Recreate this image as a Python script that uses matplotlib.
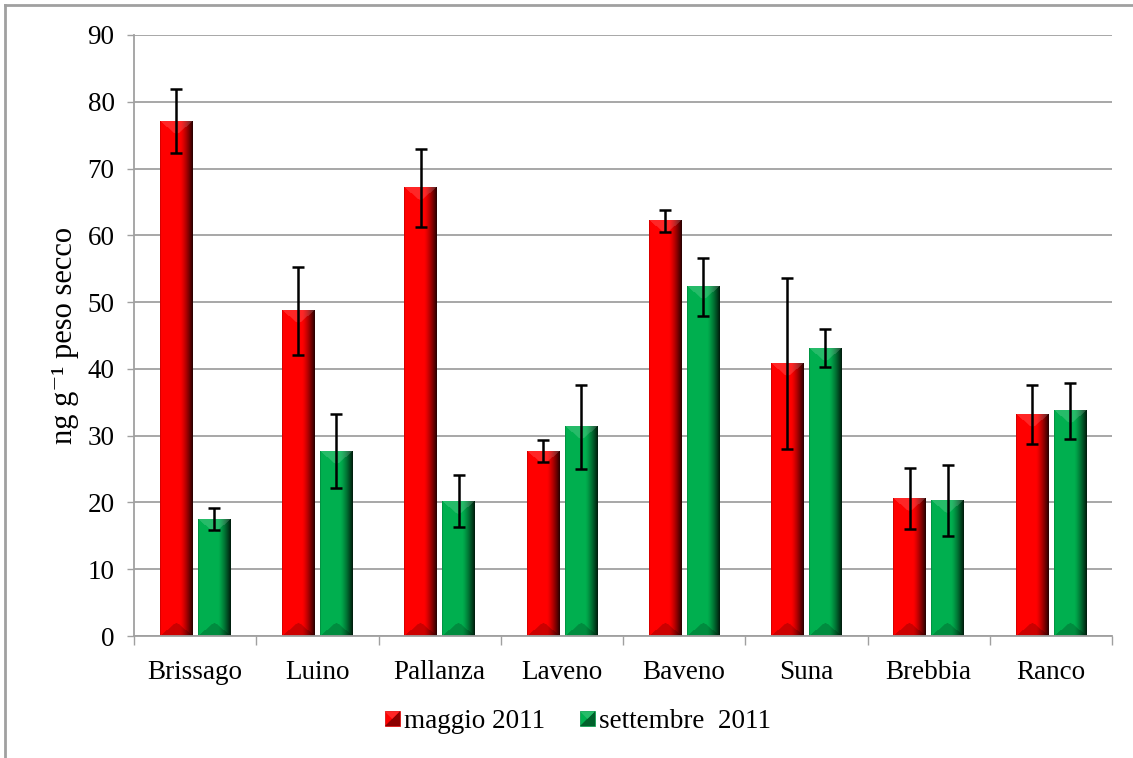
import numpy as np
import matplotlib
matplotlib.use("Agg")
import matplotlib.pyplot as plt
from matplotlib.patches import Rectangle, Polygon
from matplotlib.legend_handler import HandlerBase
from matplotlib.lines import Line2D

# ---- data -------------------------------------------------------------
sites = ["Brissago", "Luino", "Pallanza", "Laveno", "Baveno", "Suna", "Brebbia", "Ranco"]
maggio = [77.1, 48.7, 67.1, 27.7, 62.2, 40.8, 20.6, 33.2]
maggio_err = [4.8, 6.6, 5.8, 1.6, 1.65, 12.8, 4.6, 4.45]
settembre = [17.5, 27.7, 20.2, 31.3, 52.3, 43.1, 20.3, 33.7]
settembre_err = [1.65, 5.6, 3.85, 6.3, 4.35, 2.85, 5.35, 4.2]
series_labels = ["maggio 2011", "settembre  2011"]
y_ticks = list(range(0, 91, 10))

# ---- style ------------------------------------------------------------
RED = np.array([1.0, 0.0, 0.0])
GREEN = np.array([0.0, 0.69, 0.31])
GRID = "#a0a0a0"
FS = 19.5

plt.rcParams["font.family"] = ["Liberation Serif", "DejaVu Serif"]

W_PX, H_PX = 1133, 758
fig = plt.figure(figsize=(W_PX / 100, H_PX / 100), dpi=100)
ax = fig.add_axes([134 / W_PX, 1 - 636 / H_PX, (1112 - 134) / W_PX, (636 - 35) / H_PX])

n = len(sites)
ax.set_xlim(-0.5, n - 0.5)
ax.set_ylim(0, 90)

bar_w = 0.265
offset = 0.155
x = np.arange(n)


def bevel_image(base, w_px, h_px):
    """RGB image of a bevelled bar: bright face, dark right edge,
    light top facet and shaded bottom facet."""
    W = max(int(round(w_px)), 2)
    H = max(int(round(h_px)), 2)
    c = np.tile(np.arange(W)[None, :], (H, 1)).astype(float)
    r = np.tile(np.arange(H)[:, None], (1, W)).astype(float)
    u = c / (W - 1)
    s = np.ones((H, W))
    s = np.where(u > 0.62, 1 - 0.82 * ((u - 0.62) / 0.38) ** 1.3, s)
    s = np.where(c < 1, 0.85, s)
    rgb = base[None, None, :] * s[..., None]
    side = np.minimum(c, W - 1 - c)
    top = r < side * 0.85
    bottom = (H - 1 - r) < side * 0.85
    rgb[top] = rgb[top] * 0.85 + 0.15
    rgb[bottom] = rgb[bottom] * 0.8
    return np.clip(rgb, 0, 1)


def px_size(x0, w, h):
    p0 = ax.transData.transform((x0, 0))
    p1 = ax.transData.transform((x0 + w, h))
    return abs(p1[0] - p0[0]), abs(p1[1] - p0[1])


def draw_series(xpos, vals, errs, base):
    bars = ax.bar(xpos, vals, width=bar_w, color=base, linewidth=0, zorder=2)
    for b in bars:
        x0, w, h = b.get_x(), b.get_width(), b.get_height()
        wp, hp = px_size(x0, w, h)
        img = bevel_image(base, wp, hp)
        ax.imshow(img, extent=(x0, x0 + w, 0, h), origin="upper",
                  aspect="auto", interpolation="bilinear", zorder=2.5)
    ax.errorbar(xpos, vals, yerr=errs, fmt="none", ecolor="black",
                elinewidth=1.8, capsize=4.5, capthick=1.8, zorder=4)


draw_series(x - offset, maggio, maggio_err, RED)
draw_series(x + offset, settembre, settembre_err, GREEN)

ax.set_xlim(-0.5, n - 0.5)
ax.set_ylim(0, 90)
ax.set_aspect("auto")

# ---- axes decoration -----------------------------------------------------
ax.set_yticks(y_ticks)
ax.set_yticklabels([str(t) for t in y_ticks], fontsize=FS)
ax.set_xticks(x)
ax.set_xticklabels(sites, fontsize=FS)
ax.set_xticks(np.arange(-0.5, n, 1.0), minor=True)
ax.tick_params(axis="x", which="major", length=0, pad=17)
ax.tick_params(axis="x", which="minor", length=6.5, width=1.0, color=GRID)
ax.tick_params(axis="y", length=5, width=1.0, color=GRID, pad=9)

ax.yaxis.grid(True, color=GRID, linewidth=1.3)
ax.set_axisbelow(True)
for sp in ("top", "right"):
    ax.spines[sp].set_visible(False)
for sp in ("left", "bottom"):
    ax.spines[sp].set_color(GRID)
    ax.spines[sp].set_linewidth(1.3)

ax.set_ylabel("ng g\u207b\u00b9 peso secco", fontsize=FS + 2.5)
ax.yaxis.set_label_coords(-0.056, 0.5)


# ---- legend --------------------------------------------------------------
class BevelSquare(HandlerBase):
    def __init__(self, base):
        super().__init__()
        self.base = base

    def create_artists(self, legend, orig_handle, xdescent, ydescent,
                       width, height, fontsize, trans):
        s = min(width, height)
        x0, y0 = -xdescent, -ydescent + (height - s) / 2
        sq = Rectangle((x0, y0), s, s, facecolor=self.base,
                       edgecolor=self.base * 0.8, linewidth=0.5, transform=trans)
        tri = Polygon([(x0, y0), (x0 + s, y0), (x0 + s, y0 + s)],
                      closed=True, facecolor=self.base * 0.55,
                      edgecolor="none", transform=trans)
        hl = Polygon([(x0, y0 + s), (x0 + s, y0 + s), (x0 + s * 0.5, y0 + s * 0.5)],
                     closed=True, facecolor=self.base * 0.85 + 0.15,
                     edgecolor="none", transform=trans)
        return [sq, tri, hl]


h_red = Rectangle((0, 0), 1, 1)
h_green = Rectangle((0, 0), 1, 1)
fig.legend([h_red, h_green], series_labels, loc="center",
           bbox_to_anchor=(0.51, 1 - 722 / H_PX), ncol=2, frameon=False,
           fontsize=FS, handlelength=0.55, handleheight=0.55,
           handletextpad=0.15, columnspacing=1.3,
           handler_map={h_red: BevelSquare(RED), h_green: BevelSquare(GREEN)})

# ---- outer frame (left and top edges) ------------------------------------
fx, fy = 5 / W_PX, 1 - 5 / H_PX
fig.add_artist(Line2D([fx, fx], [0, fy], transform=fig.transFigure,
                      color="#a0a0a0", linewidth=2))
fig.add_artist(Line2D([fx, 1], [fy, fy], transform=fig.transFigure,
                      color="#a0a0a0", linewidth=2))

fig.savefig("out.png", dpi=100)
